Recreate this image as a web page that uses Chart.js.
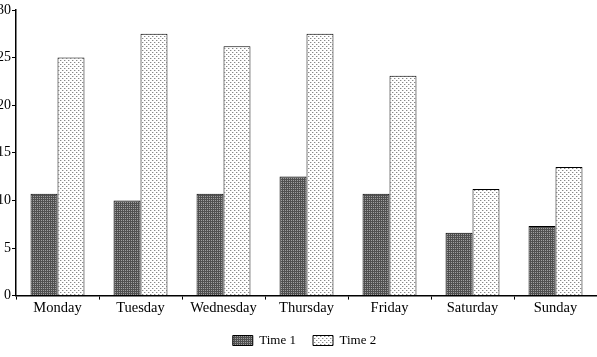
<!DOCTYPE html>
<html><head><meta charset="utf-8">
<script src="https://cdn.jsdelivr.net/npm/chart.js@4/dist/chart.umd.min.js"></script>
<style>html,body{margin:0;padding:0;background:#fff}#wrap{width:597px;height:357px}</style>
</head><body><div id="wrap"><canvas id="c"></canvas></div>
<script>
const categories = ['Monday','Tuesday','Wednesday','Thursday','Friday','Saturday','Sunday'];
const time1 = [10.7, 10.0, 10.7, 12.5, 10.7, 6.6, 7.3];
const time2 = [25.0, 27.5, 26.2, 27.5, 23.1, 11.2, 13.5];
const seriesNames = ['Time 1','Time 2'];
const yTicks = [0,5,10,15,20,25,30];

function pat(draw, w, h){
  const c=document.createElement('canvas');c.width=w;c.height=h;
  const x=c.getContext('2d');draw(x);return x.createPattern(c,'repeat');
}
const darkPat = pat(x=>{
  x.fillStyle='#a0a0a0';x.fillRect(0,0,4,4);
  x.fillStyle='#505050';
  x.fillRect(0,0,1,4);x.fillRect(2,0,1,4);
  x.fillRect(0,1,4,1);x.fillRect(0,3,4,1);
},4,4);
const lightPat = pat(x=>{
  x.fillStyle='#fff';x.fillRect(0,0,4,4);
  x.fillStyle='#888';
  x.fillRect(0,0,1,1);x.fillRect(2,2,1,1);
  x.fillStyle='#d4d4d4';
  x.fillRect(1,0,1,1);x.fillRect(3,2,1,1);
},4,4);

Chart.defaults.font.family = '"Liberation Serif", "Times New Roman", serif';
Chart.defaults.font.size = 13;
Chart.defaults.color = '#000';

const legendShift = {
  id:'legendShift',
  afterLayout(chart){ if(chart.legend){ chart.legend.left += 6; chart.legend.right += 6; } }
};

new Chart(document.getElementById('c'), {
  type:'bar',
  data:{
    labels:categories,
    datasets:[
      {label:seriesNames[0],data:time1,backgroundColor:darkPat,borderColor:'#000',borderWidth:1,borderSkipped:'bottom'},
      {label:seriesNames[1],data:time2,backgroundColor:lightPat,borderColor:'#000',borderWidth:1,borderSkipped:'bottom'}
    ]
  },
  plugins:[legendShift],
  options:{
    responsive:true,maintainAspectRatio:false,animation:false,
    layout:{padding:{top:10,right:0,left:0,bottom:0}},
    datasets:{bar:{barPercentage:1,categoryPercentage:0.65}},
    plugins:{
      legend:{position:'bottom',labels:{boxWidth:20,boxHeight:10,padding:17,color:'#000',font:{size:13}}},
      tooltip:{enabled:false}
    },
    scales:{
      x:{
        offset:true,
        grid:{display:true,offset:true,drawOnChartArea:false,drawTicks:true,tickLength:4,color:'#000'},
        border:{display:true,color:'#000',width:1.5},
        ticks:{padding:0,color:'#000',font:{size:14.5}}
      },
      y:{
        min:0,max:30,
        afterFit:(s)=>{s.width=16;},
        afterBuildTicks:(s)=>{s.ticks=yTicks.map(v=>({value:v}));},
        grid:{display:true,drawOnChartArea:false,drawTicks:true,tickLength:4,color:'#000'},
        border:{display:true,color:'#000',width:1.5},
        ticks:{padding:1,color:'#000',font:{size:14}}
      }
    }
  }
});
</script></body></html>
